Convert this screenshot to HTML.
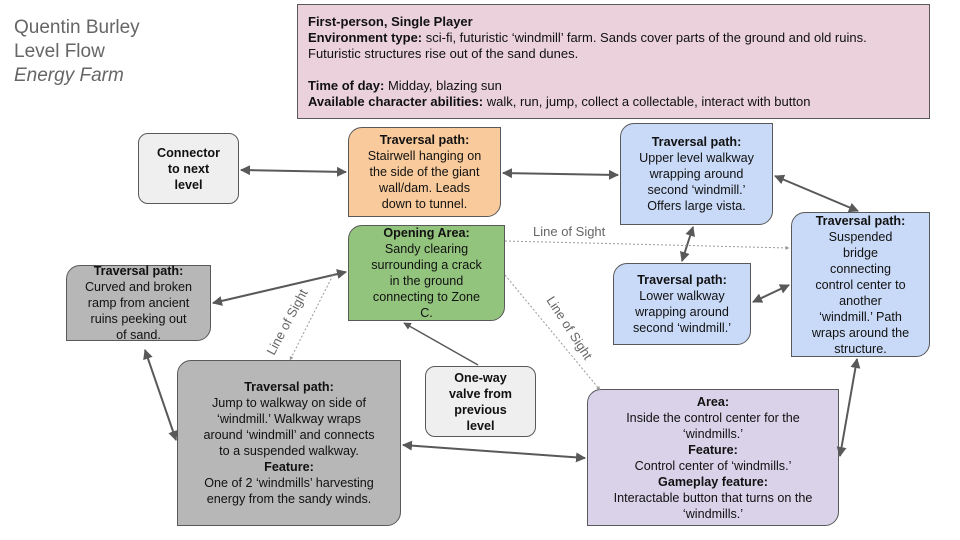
<!DOCTYPE html>
<html><head><meta charset="utf-8"><style>
body{margin:0;width:960px;height:540px;background:#fff;position:relative;overflow:hidden;font-family:"Liberation Sans",sans-serif;}
.b{position:absolute;box-sizing:border-box;border:1px solid #595959;display:flex;flex-direction:column;justify-content:center;align-items:center;text-align:center;font-size:12.6px;line-height:16px;color:#111;border-radius:14px 0 14px 0;white-space:nowrap}
.b b{font-weight:bold}
.t{position:absolute;left:14px;top:16px;font-size:19px;line-height:24px;color:#666}
svg{position:absolute;left:0;top:0}
</style></head><body>
<div class="t">Quentin Burley<br>Level Flow<br><i>Energy Farm</i></div>
<div class="b" style="left:297px;top:4px;width:633px;height:115px;background:#ead1dc;border-radius:0;align-items:flex-start;text-align:left;padding:0 10px;font-size:13px;line-height:16px;justify-content:flex-start;padding-top:9px">
<div><b>First-person, Single Player</b><br><b>Environment type:</b> sci-fi, futuristic ‘windmill’ farm. Sands cover parts of the ground and old ruins.<br>Futuristic structures rise out of the sand dunes.<br><br><b>Time of day:</b> Midday, blazing sun<br><b>Available character abilities:</b> walk, run, jump, collect a collectable, interact with button</div></div>
<div class="b" style="left:138px;top:133px;width:101px;height:71px;background:#efefef;border-radius:10px"><b>Connector<br>to next<br>level</b></div>
<div class="b" style="left:348px;top:127px;width:153px;height:90px;background:#f9cb9c"><b>Traversal path:</b>Stairwell hanging on<br>the side of the giant<br>wall/dam. Leads<br>down to tunnel.</div>
<div class="b" style="left:620px;top:123px;width:153px;height:102px;background:#c9daf8"><b>Traversal path:</b>Upper level walkway<br>wrapping around<br>second ‘windmill.’<br>Offers large vista.</div>
<div class="b" style="left:348px;top:225px;width:157px;height:96px;background:#93c47d"><b>Opening Area:</b>Sandy clearing<br>surrounding a crack<br>in the ground<br>connecting to Zone<br>C.</div>
<div class="b" style="left:613px;top:263px;width:138px;height:82px;background:#c9daf8"><b>Traversal path:</b>Lower walkway<br>wrapping around<br>second ‘windmill.’</div>
<div class="b" style="left:791px;top:212px;width:139px;height:145px;background:#c9daf8"><b>Traversal path:</b>Suspended<br>bridge<br>connecting<br>control center to<br>another<br>‘windmill.’ Path<br>wraps around the<br>structure.</div>
<div class="b" style="left:66px;top:265px;width:145px;height:76px;background:#b7b7b7"><b>Traversal path:</b>Curved and broken<br>ramp from ancient<br>ruins peeking out<br>of sand.</div>
<div class="b" style="left:177px;top:360px;width:224px;height:166px;background:#b7b7b7"><b>Traversal path:</b>Jump to walkway on side of<br>‘windmill.’ Walkway wraps<br>around ‘windmill’ and connects<br>to a suspended walkway.<b>Feature:</b>One of 2 ‘windmills’ harvesting<br>energy from the sandy winds.</div>
<div class="b" style="left:425px;top:366px;width:111px;height:71px;background:#efefef;border-radius:10px"><b>One-way<br>valve from<br>previous<br>level</b></div>
<div class="b" style="left:587px;top:389px;width:252px;height:137px;background:#d9d2e9"><b>Area:</b>Inside the control center for the<br>‘windmills.’<b>Feature:</b>Control center of ‘windmills.’<b>Gameplay feature:</b>Interactable button that turns on the<br>‘windmills.’</div>
<svg width="960" height="540">
<defs><marker id="a" viewBox="0 0 10 10" refX="9" refY="5" markerWidth="5" markerHeight="5" orient="auto-start-reverse"><path d="M0,0L10,5L0,10z" fill="#595959"/></marker>
<marker id="d" viewBox="0 0 10 10" refX="9" refY="5" markerWidth="4" markerHeight="4" orient="auto"><path d="M0,0L10,5L0,10z" fill="#999"/></marker></defs>
<g stroke="#595959" stroke-width="2" fill="none" marker-start="url(#a)" marker-end="url(#a)">
<line x1="241" y1="170" x2="346" y2="172"/>
<line x1="503" y1="173" x2="618" y2="175"/>
<line x1="775" y1="176" x2="858" y2="211"/>
<line x1="693" y1="227" x2="682" y2="261"/>
<line x1="753" y1="302" x2="789" y2="285"/>
<line x1="213" y1="303" x2="346" y2="272"/>
<line x1="145" y1="350" x2="176" y2="440"/>
<line x1="403" y1="445" x2="585" y2="458"/>
<line x1="840" y1="456" x2="857" y2="359"/>
</g>
<line x1="478" y1="365" x2="404" y2="323" stroke="#595959" stroke-width="1.5" marker-end="url(#a)"/>
<g stroke="#999" stroke-width="1" stroke-dasharray="2,2" fill="none" marker-end="url(#d)">
<line x1="505" y1="241" x2="789" y2="248"/>
<line x1="505" y1="275" x2="600" y2="390"/>
<line x1="333" y1="275" x2="290" y2="360"/>
</g>
<g fill="#666" font-family="Liberation Sans" font-size="13">
<text x="533" y="236">Line of Sight</text>
<text transform="translate(546,300) rotate(57)">Line of Sight</text>
<text transform="translate(274,356) rotate(-62)">Line of Sight</text>
</g>
</svg>
</body></html>
